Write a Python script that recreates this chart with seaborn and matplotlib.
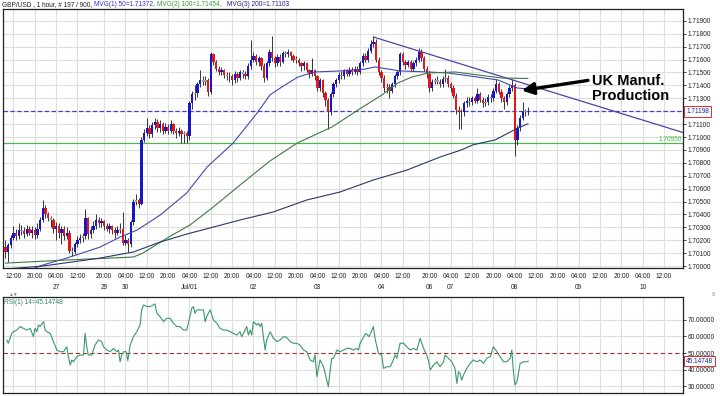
import numpy as np
import pandas as pd
import matplotlib
matplotlib.use("Agg")
import matplotlib.pyplot as plt
import seaborn as sns

# GBP/USD hourly candles, 197 bars, x axis = bar number (weekend skipped)
first_open = 1.7015
closes = [
    1.7011, 1.7016, 1.7022, 1.7026, 1.7023, 1.7028, 1.7027, 1.7025, 1.7029, 1.7026,
    1.7028, 1.7024, 1.7029, 1.7036, 1.7045, 1.7040, 1.7037, 1.7036, 1.7029, 1.7031,
    1.7026, 1.7029, 1.7023, 1.7026, 1.7012, 1.7011, 1.7017, 1.7020, 1.7022, 1.7023,
    1.7037, 1.7025, 1.7028, 1.7031, 1.7036, 1.7033, 1.7035, 1.7031, 1.7029, 1.7031,
    1.7028, 1.7026, 1.7028, 1.7029, 1.7018, 1.7020, 1.7017, 1.7034, 1.7050, 1.7051,
    1.7048, 1.7098, 1.7103, 1.7107, 1.7102, 1.7109, 1.7112, 1.7107, 1.7110, 1.7105,
    1.7108, 1.7105, 1.7110, 1.7105, 1.7103, 1.7105, 1.7102, 1.7103, 1.7101, 1.7126,
    1.7133, 1.7134, 1.7141, 1.7144, 1.7143, 1.7144, 1.7135, 1.7164, 1.7158, 1.7153,
    1.7150, 1.7152, 1.7148, 1.7147, 1.7147, 1.7144, 1.7149, 1.7146, 1.7150, 1.7149,
    1.7147, 1.7155, 1.7160, 1.7163, 1.7158, 1.7161, 1.7155, 1.7146, 1.7157, 1.7166,
    1.7161, 1.7157, 1.7162, 1.7158, 1.7165, 1.7164, 1.7166, 1.7163, 1.7160, 1.7160,
    1.7157, 1.7155, 1.7157, 1.7152, 1.7149, 1.7152, 1.7147, 1.7138, 1.7144, 1.7134,
    1.7129, 1.7119, 1.7133, 1.7141, 1.7144, 1.7148, 1.7147, 1.7151, 1.7149, 1.7152,
    1.7150, 1.7153, 1.7150, 1.7157, 1.7163, 1.7160, 1.7167, 1.7172, 1.7174, 1.7160,
    1.7150, 1.7146, 1.7138, 1.7139, 1.7136, 1.7141, 1.7147, 1.7150, 1.7164, 1.7158,
    1.7156, 1.7158, 1.7153, 1.7157, 1.7160, 1.7166, 1.7161, 1.7153, 1.7149, 1.7138,
    1.7143, 1.7144, 1.7143, 1.7141, 1.7145, 1.7146, 1.7141, 1.7138, 1.7132, 1.7121,
    1.7119, 1.7119, 1.7126, 1.7128, 1.7127, 1.7130, 1.7128, 1.7133, 1.7129, 1.7126,
    1.7127, 1.7131, 1.7130, 1.7136, 1.7141, 1.7135, 1.7130, 1.7127, 1.7133, 1.7138,
    1.7140, 1.7098, 1.7107, 1.7115, 1.7119, 1.7120, 1.71198,
]
highs = [
    1.7020, 1.7018, 1.7024, 1.7031, 1.7029, 1.7033, 1.7032, 1.7030, 1.7032, 1.7031,
    1.7031, 1.7030, 1.7033, 1.7038, 1.7051, 1.7047, 1.7042, 1.7039, 1.7037, 1.7034,
    1.7033, 1.7031, 1.7031, 1.7030, 1.7028, 1.7015, 1.7019, 1.7023, 1.7025, 1.7026,
    1.7044, 1.7038, 1.7031, 1.7035, 1.7040, 1.7038, 1.7037, 1.7036, 1.7033, 1.7033,
    1.7032, 1.7030, 1.7031, 1.7033, 1.7042, 1.7024, 1.7022, 1.7036, 1.7052, 1.7056,
    1.7053, 1.7100, 1.7106, 1.7115, 1.7109, 1.7112, 1.7115, 1.7114, 1.7113, 1.7112,
    1.7111, 1.7110, 1.7113, 1.7111, 1.7107, 1.7108, 1.7106, 1.7105, 1.7105, 1.7128,
    1.7136, 1.7140, 1.7143, 1.7152, 1.7147, 1.7147, 1.7146, 1.7166, 1.7165, 1.7160,
    1.7155, 1.7154, 1.7153, 1.7150, 1.7150, 1.7149, 1.7151, 1.7150, 1.7152, 1.7152,
    1.7151, 1.7157, 1.7175, 1.7166, 1.7164, 1.7163, 1.7162, 1.7157, 1.7159, 1.7168,
    1.7178, 1.7163, 1.7164, 1.7164, 1.7167, 1.7167, 1.7168, 1.7167, 1.7164, 1.7163,
    1.7161, 1.7158, 1.7159, 1.7158, 1.7153, 1.7161, 1.7153, 1.7148, 1.7146, 1.7145,
    1.7136, 1.7130, 1.7135, 1.7143, 1.7146, 1.7150, 1.7151, 1.7153, 1.7153, 1.7154,
    1.7154, 1.7155, 1.7155, 1.7159, 1.7165, 1.7165, 1.7169, 1.7175, 1.7178, 1.7176,
    1.7162, 1.7152, 1.7148, 1.7142, 1.7141, 1.7143, 1.7149, 1.7152, 1.7166, 1.7166,
    1.7160, 1.7160, 1.7160, 1.7159, 1.7162, 1.7169, 1.7168, 1.7163, 1.7155, 1.7151,
    1.7145, 1.7146, 1.7147, 1.7145, 1.7147, 1.7153, 1.7148, 1.7143, 1.7140, 1.7134,
    1.7124, 1.7122, 1.7128, 1.7131, 1.7131, 1.7132, 1.7132, 1.7138, 1.7135, 1.7131,
    1.7130, 1.7133, 1.7133, 1.7138, 1.7145, 1.7143, 1.7137, 1.7132, 1.7135, 1.7140,
    1.7145, 1.7142, 1.7109, 1.7117, 1.7127, 1.7122, 1.7123,
]
lows = [
    1.7006, 1.7003, 1.7014, 1.7020, 1.7020, 1.7021, 1.7024, 1.7022, 1.7023, 1.7024,
    1.7022, 1.7021, 1.7022, 1.7027, 1.7034, 1.7037, 1.7035, 1.7030, 1.7026, 1.7020,
    1.7022, 1.7017, 1.7020, 1.7021, 1.7010, 1.7008, 1.7009, 1.7015, 1.7018, 1.7019,
    1.7021, 1.7021, 1.7022, 1.7026, 1.7029, 1.7030, 1.7030, 1.7028, 1.7027, 1.7026,
    1.7025, 1.7022, 1.7024, 1.7026, 1.7016, 1.7016, 1.7011, 1.7015, 1.7032, 1.7047,
    1.7045, 1.7047, 1.7096, 1.7101, 1.7099, 1.7100, 1.7106, 1.7104, 1.7104, 1.7102,
    1.7103, 1.7102, 1.7103, 1.7102, 1.7099, 1.7101, 1.7095, 1.7095, 1.7095, 1.7098,
    1.7122, 1.7129, 1.7131, 1.7139, 1.7140, 1.7140, 1.7132, 1.7133, 1.7156, 1.7151,
    1.7148, 1.7148, 1.7146, 1.7144, 1.7143, 1.7140, 1.7142, 1.7143, 1.7144, 1.7146,
    1.7145, 1.7145, 1.7153, 1.7158, 1.7156, 1.7155, 1.7152, 1.7143, 1.7144, 1.7155,
    1.7159, 1.7154, 1.7155, 1.7155, 1.7157, 1.7162, 1.7162, 1.7160, 1.7158, 1.7157,
    1.7155, 1.7151, 1.7152, 1.7150, 1.7146, 1.7147, 1.7144, 1.7136, 1.7136, 1.7131,
    1.7124, 1.7106, 1.7117, 1.7131, 1.7139, 1.7142, 1.7145, 1.7145, 1.7147, 1.7147,
    1.7148, 1.7149, 1.7148, 1.7149, 1.7155, 1.7158, 1.7158, 1.7165, 1.7170, 1.7158,
    1.7148, 1.7143, 1.7135, 1.7134, 1.7130, 1.7134, 1.7139, 1.7145, 1.7148, 1.7156,
    1.7153, 1.7154, 1.7151, 1.7151, 1.7155, 1.7158, 1.7159, 1.7151, 1.7146, 1.7135,
    1.7136, 1.7141, 1.7141, 1.7139, 1.7139, 1.7143, 1.7139, 1.7135, 1.7130, 1.7118,
    1.7106, 1.7106, 1.7116, 1.7123, 1.7124, 1.7125, 1.7126, 1.7126, 1.7127, 1.7123,
    1.7124, 1.7125, 1.7127, 1.7128, 1.7134, 1.7133, 1.7127, 1.7122, 1.7125, 1.7131,
    1.7136, 1.7085, 1.7094, 1.7105, 1.7113, 1.7116, 1.7117,
]

# moving averages (bar, price)
ma50_bars = [8, 14, 23, 35.5, 43, 49.4, 58, 68, 75.6, 85.4, 94.4, 99.2, 103.7, 109.7, 116,
             125.5, 135, 138.6, 143.5, 148, 158.5, 166, 177, 184.7, 192, 196]
ma50_vals = [1.69961, 1.70008, 1.70062, 1.70147, 1.70225, 1.70279, 1.70395, 1.70566, 1.70767,
             1.70953, 1.71186, 1.71326, 1.71388, 1.71465, 1.71504, 1.71512, 1.71527, 1.71543,
             1.71527, 1.71512, 1.71504, 1.71496, 1.71465, 1.71442, 1.71380, 1.71372]
ma100_bars = [0, 23, 48, 51.6, 60.6, 69.2, 77.9, 88, 99.2, 109.4, 113.5, 122.5, 132.2, 141.2,
              147.2, 152.5, 158.5, 168.6, 177.2, 186.2, 196]
ma100_vals = [1.70023, 1.70047, 1.70070, 1.70101, 1.70217, 1.70318, 1.70457, 1.70628, 1.70814,
              1.70953, 1.70992, 1.71078, 1.71209, 1.71326, 1.71419, 1.71465, 1.71496, 1.71504,
              1.71481, 1.71457, 1.71454]
ma200_bars = [0, 14, 35.5, 48, 58, 68, 88, 100.4, 113, 125.5, 138, 150.6, 163, 171, 175.4,
              183.6, 192.2, 196]
ma200_vals = [1.69977, 1.70000, 1.70062, 1.70109, 1.70186, 1.70248, 1.70357, 1.70419, 1.70512,
              1.70574, 1.70667, 1.70744, 1.70845, 1.70900, 1.70940, 1.70977, 1.71070, 1.71103]

trend_bars = [138, 254.1]
trend_prices = [1.71775, 1.71035]
last_price = 1.71198
support = 1.70950

# RSI(14)
rsi_bars = [0.5, 1.1, 2.4, 3, 4.3, 5.5, 6.8, 8, 9.3, 10.5, 11.1, 11.8, 12.4, 13, 14.3, 14.9, 15.5,
            16.8, 18, 19.3, 20.5, 21.8, 23, 23.6, 24.3, 24.9, 25.5, 26.8, 28, 29.3, 29.9, 30.5,
            31.1, 32.4, 33.6, 34.9, 36.1, 36.8, 38, 39.3, 40.5, 41.8, 42.4, 43, 43.6, 44.3,
            45.3, 45.9, 46.8, 48, 49.3, 50.5, 51.1, 51.8, 53, 54.3, 55.5, 56.1, 56.8, 58, 59.3,
            60.5, 61.8, 63, 64.3, 65.5, 66.8, 68, 68.6, 69.9, 70.5, 71.1, 71.8, 73, 74.3, 74.9,
            75.5, 76.8, 78, 79.3, 80.5, 81.8, 83, 84.3, 85.5, 86.8, 88, 88.6, 89.3, 90.5, 91.1,
            91.8, 92.4, 93, 94.3, 94.9, 95.5, 96.1, 97.4, 98, 99.3, 100.5, 101.8, 103, 104.3,
            105.5, 106.8, 108, 109.3, 110.5, 111.8, 113, 114.3, 115.5, 116.1, 116.8, 118, 119.3,
            120.5, 121.1, 121.8, 122.4, 123, 124.3, 125.5, 126.8, 128, 129.3, 130.5, 131.8,
            132.4, 133, 135.1, 136.4, 138, 138.6, 139.9, 141.1, 141.8, 143, 144.3, 145.5, 146.1,
            146.8, 148, 149.3, 150.5, 151.8, 153, 154.3, 155.5, 156.8, 158, 158.6, 159.3, 160.5,
            161.8, 163, 164.3, 164.9, 166.1, 167.4, 168.6, 169.3, 169.9, 170.5, 171.1, 171.8,
            173, 174.3, 175.5, 176.8, 178, 179.3, 180.5, 181.8, 183, 184.3, 185.5, 186.8, 188,
            189.3, 189.9, 190.5, 191.1, 191.8, 192.4, 193, 194.3, 195.5, 196.1]
rsi_vals = [57.9, 55.9, 61.9, 62.9, 63.9, 66.0, 64.9, 63.9, 64.9, 59.9, 64.9, 62.9, 67.0, 66.0,
            69.0, 63.9, 62.9, 61.9, 56.9, 51.8, 50.8, 50.8, 53.8, 47.8, 42.7, 45.8, 44.7, 47.8,
            48.8, 48.8, 61.9, 53.8, 48.8, 48.8, 54.8, 57.9, 56.9, 53.8, 51.8, 50.8, 52.8, 50.8,
            51.8, 44.7, 48.8, 50.8, 50.8, 45.4, 54.8, 59.9, 62.9, 67.0, 76.1, 79.1, 78.1, 78.1,
            79.1, 79.7, 74.0, 72.0, 69.0, 71.0, 71.0, 68.0, 66.0, 66.0, 63.9, 63.9, 68.0, 77.1,
            78.1, 74.0, 76.1, 76.1, 76.1, 69.0, 72.0, 76.1, 70.0, 68.0, 64.9, 63.9, 63.9, 62.9,
            61.9, 60.9, 62.9, 59.9, 61.9, 66.0, 60.9, 63.9, 60.9, 69.0, 67.0, 68.0, 66.0, 68.0,
            51.8, 57.9, 62.9, 58.9, 56.9, 57.9, 59.9, 59.5, 56.9, 55.9, 55.9, 54.8, 51.8, 50.8,
            45.8, 44.7, 48.8, 35.7, 45.8, 41.7, 33.6, 29.6, 39.7, 46.8, 46.8, 51.8, 50.8, 51.8,
            52.8, 52.8, 51.8, 52.8, 51.8, 55.9, 61.9, 59.9, 66.0, 58.9, 49.8, 48.8, 40.7, 41.7,
            41.7, 45.8, 48.8, 46.8, 55.9, 55.9, 53.8, 51.8, 52.8, 51.8, 58.9, 52.8, 48.8, 45.8,
            39.7, 42.7, 44.7, 41.7, 44.7, 48.8, 46.8, 44.7, 40.7, 31.6, 38.7, 37.7, 33.6, 36.7,
            40.7, 43.7, 45.8, 44.7, 45.8, 43.7, 46.8, 47.8, 53.8, 50.8, 47.8, 44.7, 44.7, 46.8,
            51.8, 38.7, 30.6, 32.6, 37.7, 43.7, 44.7, 44.7, 45.1]
rsi_last = 45.14748

# time axis labels (bar number of each label)
tick_bars = [3, 11, 19, 27, 37, 45, 53, 61, 69, 77, 85, 93, 101, 109, 117, 125, 133, 141, 149,
             159, 167, 175, 183, 191, 199, 207, 215, 223, 231, 239, 247]
tick_times = ["12:00", "20:00", "04:00", "12:00", "20:00", "04:00", "12:00", "20:00", "04:00",
              "12:00", "20:00", "04:00", "12:00", "20:00", "04:00", "12:00", "20:00", "04:00",
              "12:00", "20:00", "04:00", "12:00", "20:00", "04:00", "12:00", "20:00", "04:00",
              "12:00", "20:00", "04:00", "12:00"]
tick_dates = ["", "", "27", "", "29", "30", "", "", "Jul/01", "", "", "02", "", "", "03", "", "",
              "04", "", "06", "07", "", "", "08", "", "", "09", "", "", "10", ""]

sns.set_style("white")
plt.rcParams["font.family"] = ["Liberation Sans", "DejaVu Sans"]
FS = 4.7

fig = plt.figure(figsize=(7.2, 3.96), dpi=100, facecolor="white")
ax = fig.add_axes([3 / 720, 1 - 268 / 396, 680 / 720, 259 / 396])
rx = fig.add_axes([3 / 720, 1 - 393 / 396, 680 / 720, 96 / 396])

df = pd.DataFrame({"bar": np.arange(len(closes)), "close": closes, "high": highs, "low": lows})
df["open"] = df["close"].shift(1).fillna(first_open)
move = df["close"] - df["open"]
df["color"] = np.where(move.abs() < 0.00012, "#a0a0a0", np.where(move > 0, "#1616c8", "#e01818"))

grid_c = "#dedede"
for a in (ax, rx):
    for b in tick_bars:
        a.axvline(b, color=grid_c, lw=0.8, zorder=0)
    for s in a.spines.values():
        s.set_color("#202020")
        s.set_linewidth(0.9)
    a.set_xlim(-0.9, 254.1)
for p in np.arange(1.700, 1.7195, 0.001):
    ax.axhline(p, color=grid_c, lw=0.8, zorder=0)
for r in [30, 40, 60, 70]:
    rx.axhline(r, color=grid_c, lw=0.8, zorder=0)

# candles
ax.vlines(df["bar"], df["low"], df["high"], color="#282828", lw=0.65, zorder=3)
body = move.abs().clip(lower=0.00004)
ax.bar(df["bar"], body, bottom=df[["open", "close"]].min(axis=1), width=0.88,
       color=df["color"], linewidth=0, zorder=4)

sns.lineplot(x=ma50_bars, y=ma50_vals, ax=ax, color="#4646b4", lw=0.8, zorder=5)
sns.lineplot(x=ma100_bars, y=ma100_vals, ax=ax, color="#3f7a3f", lw=0.8, zorder=5)
sns.lineplot(x=ma200_bars, y=ma200_vals, ax=ax, color="#27386a", lw=0.8, zorder=5)
ax.plot(trend_bars, trend_prices, color="#4b45a8", lw=0.9, zorder=5)

ax.axhline(last_price, color="#4040c8", lw=0.9, ls=(0, (3.5, 2)), zorder=2)
ax.axhline(support, color="#4cb84c", lw=0.9, zorder=2)

ax.set_ylim(1.69985, 1.71992)
ax.yaxis.tick_right()
yt = np.round(np.arange(1.700, 1.7195, 0.001), 3)
ax.set_yticks(yt)
ax.set_yticklabels(["" if abs(v - 1.712) < 1e-6 else f"{v:.5f}" for v in yt])
ax.tick_params(axis="y", labelsize=FS, length=2.5, width=0.6, pad=0.8, colors="#202020", direction="out")
ax.set_xticks(tick_bars)
ax.set_xticklabels([t + ("\n" + d if d else "") for t, d in zip(tick_times, tick_dates)],
                   fontsize=FS, linespacing=1.75)
ax.tick_params(axis="x", length=0, pad=3.5, colors="#202020")
ax.set_xlabel("")
ax.set_ylabel("")

ytr = ax.get_yaxis_transform()
ax.text(0.999, support, f"{support:.5f}", transform=ytr, ha="right", va="bottom",
        fontsize=FS, color="#3cc43c")
ax.text(1.0045, last_price, f"{last_price:.5f}", transform=ytr, ha="left", va="center",
        fontsize=FS, color="#20208a",
        bbox=dict(boxstyle="square,pad=0.25", fc="white", ec="#d83030", lw=0.7))

ax.annotate("", xy=(192.6, 1.71357), xytext=(219.5, 1.71442),
            arrowprops=dict(arrowstyle="-|>,head_length=0.7,head_width=0.35", lw=2.4,
                            color="black", mutation_scale=10), zorder=8)
ax.text(219.8, 1.71375, "UK Manuf.\nProduction", fontsize=10.5, fontweight="bold",
        ha="left", va="center", linespacing=1.15, color="black", zorder=8)

# RSI panel
sns.lineplot(x=rsi_bars, y=rsi_vals, ax=rx, color="#3a9868", lw=0.8, zorder=4)
rx.axhline(50, color="#a83232", lw=0.8, ls=(0, (4, 2.5)), zorder=3)
rx.set_ylim(25.8, 83.9)
rx.yaxis.tick_right()
rx.set_yticks([30, 40, 50, 60, 70])
rx.set_yticklabels([f"{v:.5f}" for v in [30, 40, 50, 60, 70]])
rx.tick_params(axis="y", labelsize=FS, length=2.5, width=0.6, pad=0.8, colors="#202020", direction="out")
rx.set_xticks(tick_bars)
rx.set_xticklabels([])
rx.tick_params(axis="x", length=0)
rx.set_xlabel("")
rx.set_ylabel("")
rtr = rx.get_yaxis_transform()
rx.text(1.0045, rsi_last, f"{rsi_last:.5f}", transform=rtr, ha="left", va="center",
        fontsize=FS, color="#20208a",
        bbox=dict(boxstyle="square,pad=0.25", fc="white", ec="#d83030", lw=0.7))
rx.text(0.002, 0.975, f"RSI(1) 14={rsi_last:.5f}", transform=rx.transAxes, ha="left", va="top",
        fontsize=FS, color="#2f8a5a")

# header line
hy = 1 - 4.5 / 396
fig.text(2 / 720, hy, "GBP/USD , 1 hour, # 197 / 900,", fontsize=FS, color="#202020", va="center")
fig.text(94 / 720, hy, "MVG(1) 50=1.71372,", fontsize=FS, color="#3434c4", va="center")
fig.text(157 / 720, hy, "MVG(2) 100=1.71454,", fontsize=FS, color="#34a034", va="center")
fig.text(227 / 720, hy, "MVG(3) 200=1.71103", fontsize=FS, color="#20208a", va="center")
fig.text(8 / 720, 1 - 294 / 396, "\u25b2\u25bc", fontsize=3.5, color="#8088a0", va="center")
fig.text(714 / 720, 1 - 294 / 396, "x", fontsize=FS, color="#8088a0", va="center", ha="center")

fig.savefig("out.png", dpi=100, facecolor=fig.get_facecolor())
